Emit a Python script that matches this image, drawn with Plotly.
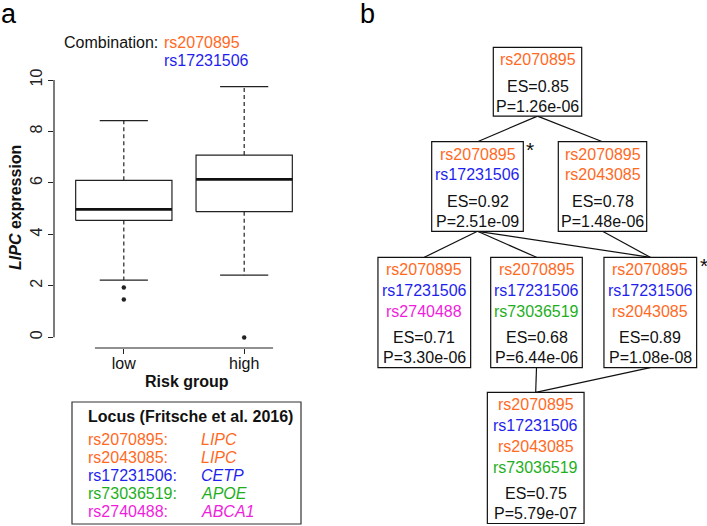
import plotly.graph_objects as go

# ---------------- data ----------------
categories = ["low", "high"]
q1 = [4.54, 4.88]
median = [4.97, 6.14]
q3 = [6.10, 7.08]
whisker_low = [2.22, 2.41]
whisker_high = [8.42, 9.74]
outliers = [[1.93, 1.47], [-0.01]]
y_ticks = [0, 2, 4, 6, 8, 10]

combination = ["rs2070895", "rs17231506"]

legend_loci = ["rs2070895", "rs2043085", "rs17231506", "rs73036519", "rs2740488"]
legend_genes = ["LIPC", "LIPC", "CETP", "APOE", "ABCA1"]

node_snps = [
    ["rs2070895"],
    ["rs2070895", "rs17231506"],
    ["rs2070895", "rs2043085"],
    ["rs2070895", "rs17231506", "rs2740488"],
    ["rs2070895", "rs17231506", "rs73036519"],
    ["rs2070895", "rs17231506", "rs2043085"],
    ["rs2070895", "rs17231506", "rs2043085", "rs73036519"],
]
node_es = [0.85, 0.92, 0.78, 0.71, 0.68, 0.89, 0.75]
node_p = [1.26e-06, 2.51e-09, 1.48e-06, 3.30e-06, 6.44e-06, 1.08e-08, 5.79e-07]
node_star = [False, True, False, False, False, True, False]
edges = [(0, 1), (0, 2), (1, 3), (1, 4), (1, 5), (2, 5), (4, 6), (5, 6)]

# ---------------- styling / layout ----------------
W, H = 707, 526
FONT = "Arial, Liberation Sans, sans-serif"
INK = "#222222"
ORANGE = "#FF6A1F"
BLUE = "#1F1FEE"
GREEN = "#1EAF1E"
MAGENTA = "#F01EDC"
snp_color = {"rs2070895": ORANGE, "rs2043085": ORANGE, "rs17231506": BLUE,
             "rs73036519": GREEN, "rs2740488": MAGENTA}
gene_color = dict(zip(legend_genes, [snp_color[s] for s in legend_loci]))

# tree node layout (pixel positions in the figure)
node_cx = [537.5, 477.5, 602.5, 424.3, 536.5, 650.3, 535.7]
node_top = [47.3, 141.7, 141.7, 257.3, 257.3, 257.3, 392.3]
node_w = [88.4, 91.6, 88.4, 92.7, 91.6, 92.7, 96.7]
FIRST = 12.3   # top -> first snp line centre
SNP_STEP = 20.8
ES_GAP = 26.7
P_STEP = 20.0
BOTTOM = 9.8

fig = go.Figure()

# ---------- panel a: boxplot ----------
HW = 0.4   # half box width
CW = 0.2   # half cap width
for i, cat in enumerate(categories):
    xc = i + 1
    fig.add_trace(go.Scatter(x=[xc - HW, xc + HW, xc + HW, xc - HW, xc - HW],
                             y=[q1[i], q1[i], q3[i], q3[i], q1[i]],
                             mode="lines", line=dict(color=INK, width=1.2),
                             fill="toself", fillcolor="white", hoverinfo="skip"))
    fig.add_trace(go.Scatter(x=[xc - HW, xc + HW], y=[median[i], median[i]],
                             mode="lines", line=dict(color="#111111", width=2.8), hoverinfo="skip"))
    for a, b in ((q3[i], whisker_high[i]), (q1[i], whisker_low[i])):
        fig.add_trace(go.Scatter(x=[xc, xc], y=[a, b], mode="lines",
                                 line=dict(color=INK, width=1.2, dash="4px,3px"), hoverinfo="skip"))
    for w in (whisker_high[i], whisker_low[i]):
        fig.add_trace(go.Scatter(x=[xc - CW, xc + CW], y=[w, w], mode="lines",
                                 line=dict(color=INK, width=1.2), hoverinfo="skip"))
    fig.add_trace(go.Scatter(x=[xc] * len(outliers[i]), y=outliers[i], mode="markers",
                             marker=dict(color=INK, size=4.5), hoverinfo="skip"))

# invisible trace for the overlay pixel axes
fig.add_trace(go.Scatter(x=[W / 2], y=[H / 2], xaxis="x2", yaxis="y2", mode="markers",
                         marker=dict(opacity=0), hoverinfo="skip"))

shapes = []
ann = []

def T(x, y, text, color="black", size=16, xanchor="center", ref=("x2", "y2"), **kw):
    ann.append(dict(x=x, y=y, xref=ref[0], yref=ref[1], text=text, showarrow=False,
                    xanchor=xanchor, yanchor="middle",
                    font=dict(family=FONT, size=size, color=color), **kw))

# axis lines of panel a
shapes.append(dict(type="line", xref="x domain", yref="y", x0=0, x1=0, y0=y_ticks[0], y1=y_ticks[-1],
                   line=dict(color=INK, width=1.2)))
shapes.append(dict(type="line", xref="x", yref="y domain", x0=0.76, x1=2.24, y0=0, y1=0,
                   line=dict(color=INK, width=1.2)))

# titles of panel a
T(8.5, 14, "a", size=27)
T(61.5, 42, "Combination:", color="#111111", xanchor="left")
for k, s in enumerate(combination):
    T(161.5, 42 + 18.5 * k, s, color=snp_color[s], xanchor="left")
T(187, 381, "<b>Risk group</b>", color="#111111")
T(15, 208, "<b><i>LIPC</i> expression</b>", color="#111111", textangle=-90)

# legend box
shapes.append(dict(type="rect", xref="x2", yref="y2", x0=72, x1=301, y0=402, y1=524,
                   line=dict(color="#333333", width=1.2)))
T(86, 416.7, "<b>Locus (Fritsche et al. 2016)</b>", color="#111111", xanchor="left")
for k, (s, g) in enumerate(zip(legend_loci, legend_genes)):
    y = 439.3 + 18.1 * k
    T(86, y, s + ":", color=snp_color[s], xanchor="left")
    T(199, y, "<i>" + g + "</i>", color=gene_color[g], xanchor="left")

# ---------- panel b: tree ----------
T(367.5, 14, "b", size=27)

def node_bottom(i):
    n = len(node_snps[i])
    return node_top[i] + FIRST + SNP_STEP * (n - 1) + ES_GAP + P_STEP + BOTTOM

for a, b in edges:
    shapes.append(dict(type="line", xref="x2", yref="y2", x0=node_cx[a], y0=node_bottom(a),
                       x1=node_cx[b], y1=node_top[b], line=dict(color="#111111", width=1.2)))

for i in range(len(node_snps)):
    top, cx, w = node_top[i], node_cx[i], node_w[i]
    bot = node_bottom(i)
    shapes.append(dict(type="rect", xref="x2", yref="y2", x0=cx - w / 2, x1=cx + w / 2,
                       y0=top, y1=bot, line=dict(color="#111111", width=1.2), fillcolor="white"))
    y = top + FIRST
    for k, s in enumerate(node_snps[i]):
        T(cx, y + SNP_STEP * k, s, color=snp_color[s])
    yes = y + SNP_STEP * (len(node_snps[i]) - 1) + ES_GAP
    T(cx, yes, f"ES={node_es[i]:.2f}", color="#111111")
    T(cx, yes + P_STEP, f"P={node_p[i]:.2e}", color="#111111")
    if node_star[i]:
        T(cx + w / 2 + 7, top + 8, "*", color="#111111", size=21)

fig.update_layout(
    width=W, height=H, margin=dict(l=0, r=0, t=0, b=0, pad=0), autosize=False,
    paper_bgcolor="white", plot_bgcolor="rgba(0,0,0,0)", showlegend=False,
    font=dict(family=FONT, size=16, color=INK),
    xaxis=dict(domain=[54 / W, 314 / W], range=[0.42, 2.58], tickvals=[1, 2], ticktext=categories,
               ticks="outside", ticklen=5, tickcolor=INK, tickwidth=1.2, showgrid=False,
               zeroline=False, showline=False, automargin=False, ticklabelstandoff=-4,
               tickfont=dict(size=16, color="#111111")),
    yaxis=dict(domain=[(H - 348) / H, (H - 76.4) / H], range=[-0.42, 10.14], tickvals=y_ticks,
               ticks="outside", ticklen=5, tickcolor=INK, tickwidth=1.2, showgrid=False,
               zeroline=False, showline=False, tickangle=-90, automargin=False,
               tickfont=dict(size=16, color="#222222")),
    xaxis2=dict(domain=[0, 1], range=[0, W], visible=False, anchor="y2", fixedrange=True,
                automargin=False),
    yaxis2=dict(domain=[0, 1], range=[H, 0], visible=False, anchor="x2", fixedrange=True,
                automargin=False),
    shapes=shapes, annotations=ann,
)

fig.write_html("out.html", config={"displayModeBar": False},
               post_script="document.body.style.margin='0';document.body.style.padding='0';")
